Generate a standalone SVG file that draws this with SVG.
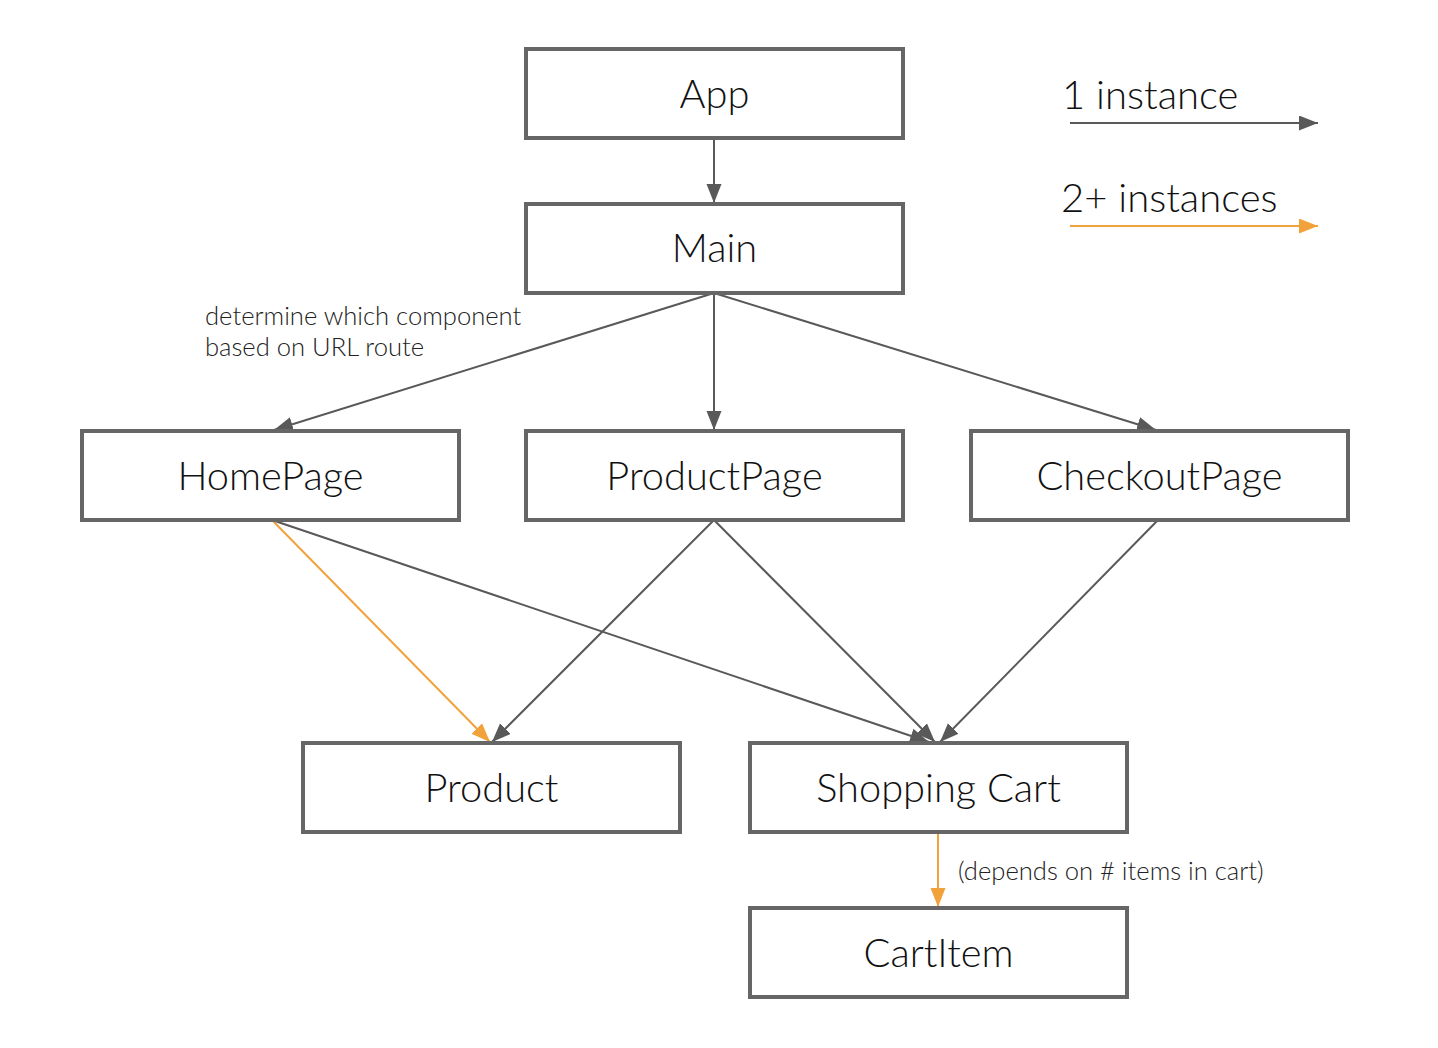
<svg xmlns="http://www.w3.org/2000/svg" width="1438" height="1048" viewBox="0 0 1438 1048">
<defs>
<style>
.box{fill:#fff;stroke:#666;stroke-width:4}
.lbl{font-family:Lato,"Open Sans",sans-serif;font-weight:300;font-size:39.8px;fill:#111;text-anchor:middle}
.note{font-family:Lato,"Open Sans",sans-serif;font-weight:300;font-size:25.6px;fill:#222}
.leg{font-family:Lato,"Open Sans",sans-serif;font-weight:300;font-size:40px;fill:#111}
.g{stroke:#595959;stroke-width:2;fill:none}
.o{stroke:#F2A23B;stroke-width:2;fill:none}
</style>
<marker id="ag" markerUnits="userSpaceOnUse" markerWidth="22" markerHeight="18" refX="19" refY="7.5" orient="auto"><path d="M0,0 L19,7.5 L0,15 z" fill="#595959"/></marker>
<marker id="ao" markerUnits="userSpaceOnUse" markerWidth="22" markerHeight="18" refX="19" refY="7.5" orient="auto"><path d="M0,0 L19,7.5 L0,15 z" fill="#F2A23B"/></marker>
</defs>
<rect width="1438" height="1048" fill="#fff"/>
<g id="connectors">
<line class="g" x1="714" y1="138" x2="714" y2="203" marker-end="url(#ag)"/>
<line class="g" x1="714" y1="293" x2="274" y2="430" marker-end="url(#ag)"/>
<line class="g" x1="714" y1="293" x2="714" y2="430" marker-end="url(#ag)"/>
<line class="g" x1="714" y1="293" x2="1156" y2="430" marker-end="url(#ag)"/>
<line class="o" x1="272" y1="520" x2="490" y2="742" marker-end="url(#ao)"/>
<line class="g" x1="272" y1="520" x2="929" y2="742" marker-end="url(#ag)"/>
<line class="g" x1="714" y1="520" x2="492" y2="742" marker-end="url(#ag)"/>
<line class="g" x1="714" y1="520" x2="935" y2="742" marker-end="url(#ag)"/>
<line class="g" x1="1158" y1="520" x2="940" y2="742" marker-end="url(#ag)"/>
<line class="o" x1="938" y1="832" x2="938" y2="907" marker-end="url(#ao)"/>
</g>
<g id="legend">
<text class="leg" x="1062" y="109">1 instance</text>
<line class="g" x1="1070" y1="123" x2="1318" y2="123" marker-end="url(#ag)"/>
<text class="leg" x="1061" y="212">2+ instances</text>
<line class="o" x1="1070" y1="226" x2="1318" y2="226" marker-end="url(#ao)"/>
</g>
<g id="notes">
<text class="note" x="205" y="325">determine which component</text>
<text class="note" x="205" y="356">based on URL route</text>
<text class="note" x="958" y="880">(depends on # items in cart)</text>
</g>
<g id="App"><rect class="box" x="526" y="49" width="377" height="89"/><text class="lbl" x="714.5" y="108">App</text></g>
<g id="Main"><rect class="box" x="526" y="204" width="377" height="89"/><text class="lbl" x="714.5" y="262">Main</text></g>
<g id="HomePage"><rect class="box" x="82" y="431" width="377" height="89"/><text class="lbl" x="270.5" y="490">HomePage</text></g>
<g id="ProductPage"><rect class="box" x="526" y="431" width="377" height="89"/><text class="lbl" x="714.5" y="490">ProductPage</text></g>
<g id="CheckoutPage"><rect class="box" x="971" y="431" width="377" height="89"/><text class="lbl" x="1159.5" y="490">CheckoutPage</text></g>
<g id="Product"><rect class="box" x="303" y="743" width="377" height="89"/><text class="lbl" x="491.5" y="802">Product</text></g>
<g id="ShoppingCart"><rect class="box" x="750" y="743" width="377" height="89"/><text class="lbl" x="938.5" y="802">Shopping Cart</text></g>
<g id="CartItem"><rect class="box" x="750" y="908" width="377" height="89"/><text class="lbl" x="938.5" y="967">CartItem</text></g>
</svg>
